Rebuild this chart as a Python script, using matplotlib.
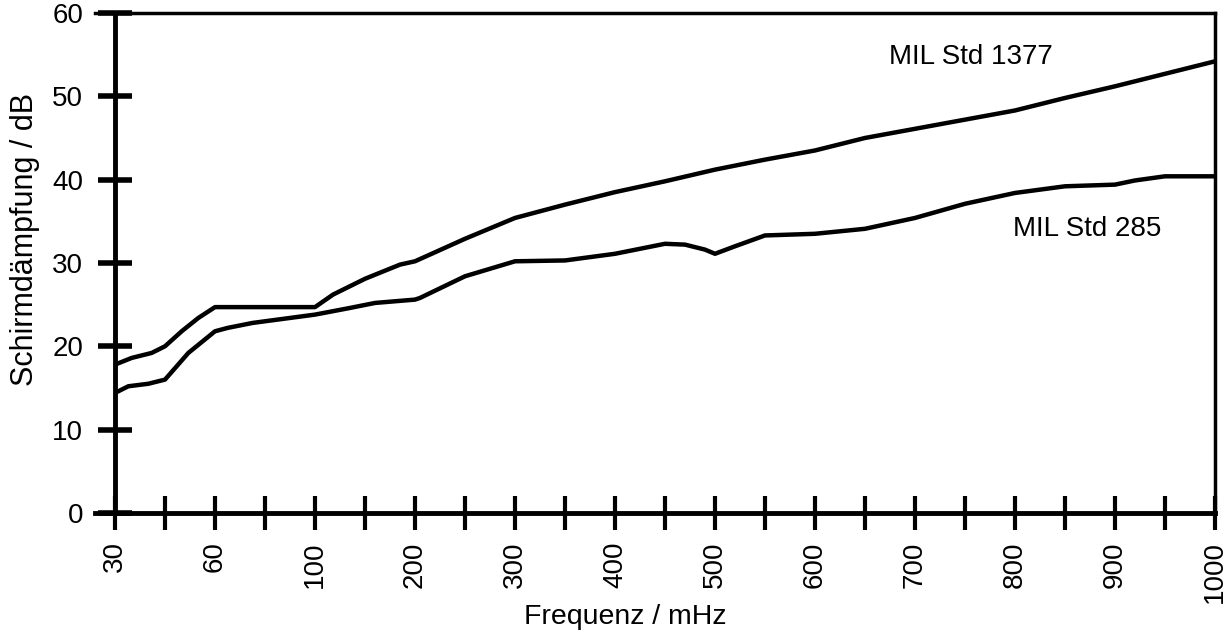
import matplotlib.pyplot as plt
import numpy as np

plt.rcParams['font.family'] = ['Liberation Sans', 'DejaVu Sans']

# x axis is not linear: equally spaced ticks at these frequencies (MHz)
tick_freqs = [30, 45, 60, 80, 100, 150, 200, 250, 300, 350, 400, 450, 500,
              550, 600, 650, 700, 750, 800, 850, 900, 950, 1000]
tick_labels = ['30', '', '60', '', '100', '', '200', '', '300', '', '400', '',
               '500', '', '600', '', '700', '', '800', '', '900', '', '1000']
y_ticks = [0, 10, 20, 30, 40, 50, 60]

# MIL Std 1377
freq_1377 = [30, 35, 41, 45, 50, 55, 60, 100, 118, 150, 185, 200, 250, 300, 350,
             400, 450, 500, 550, 600, 650, 700, 750, 800, 850, 900, 950, 1000]
db_1377 = [17.8, 18.6, 19.2, 20.0, 21.8, 23.4, 24.7, 24.7, 26.2, 28.1, 29.8, 30.2,
           32.9, 35.4, 37.0, 38.5, 39.8, 41.2, 42.4, 43.5, 45.0, 46.1, 47.2, 48.3,
           49.8, 51.2, 52.7, 54.2]

# MIL Std 285
freq_285 = [30, 34, 40, 45, 52, 60, 65, 75, 90, 100, 135, 160, 200, 205, 250, 300,
            350, 400, 450, 470, 490, 500, 520, 550, 600, 650, 700, 750, 800, 850,
            900, 920, 950, 1000]
db_285 = [14.4, 15.2, 15.5, 16.0, 19.2, 21.8, 22.2, 22.8, 23.4, 23.8, 24.6, 25.2,
          25.6, 25.8, 28.4, 30.2, 30.3, 31.1, 32.3, 32.2, 31.6, 31.1, 32.0, 33.3,
          33.5, 34.1, 35.4, 37.1, 38.4, 39.2, 39.4, 39.9, 40.4, 40.4]

tick_pos = np.arange(len(tick_freqs))


def to_pos(freqs):
    return np.interp(freqs, tick_freqs, tick_pos)


fig = plt.figure(figsize=(12.26, 6.34), dpi=100)
ax = fig.add_axes([0.0775, 0.191, 0.9135, 0.7885])

ax.plot(to_pos(freq_1377), db_1377, color='black', lw=3.2, solid_capstyle='butt')
ax.plot(to_pos(freq_285), db_285, color='black', lw=3.2, solid_capstyle='butt')

ax.text(to_pos(674), 53.9, 'MIL Std 1377', fontsize=20, ha='left', va='baseline')
ax.text(to_pos(798), 33.2, 'MIL Std 285', fontsize=20, ha='left', va='baseline')

ax.set_xlim(-0.4, tick_pos[-1])
ax.set_ylim(0, 60)
ax.spines['left'].set_position(('data', 0))
ax.spines['left'].set_linewidth(3.5)
ax.spines['bottom'].set_linewidth(3.5)
ax.spines['top'].set_linewidth(2.5)
ax.spines['right'].set_linewidth(2.5)

ax.set_xticks(tick_pos)
ax.set_xticklabels(tick_labels, rotation=90)
ax.set_yticks(y_ticks)
ax.tick_params(axis='x', direction='inout', length=25, width=3, pad=8, labelsize=20)
ax.tick_params(axis='y', direction='inout', length=24, width=4, pad=11, labelsize=20)

ax.set_xlabel('Frequenz / mHz', fontsize=20.5)
ax.set_ylabel('Schirmdämpfung / dB', fontsize=22)
ax.xaxis.set_label_coords(0.473, -0.182)
ax.yaxis.set_label_coords(-0.049, 0.546)

fig.savefig('out.png', dpi=100)
